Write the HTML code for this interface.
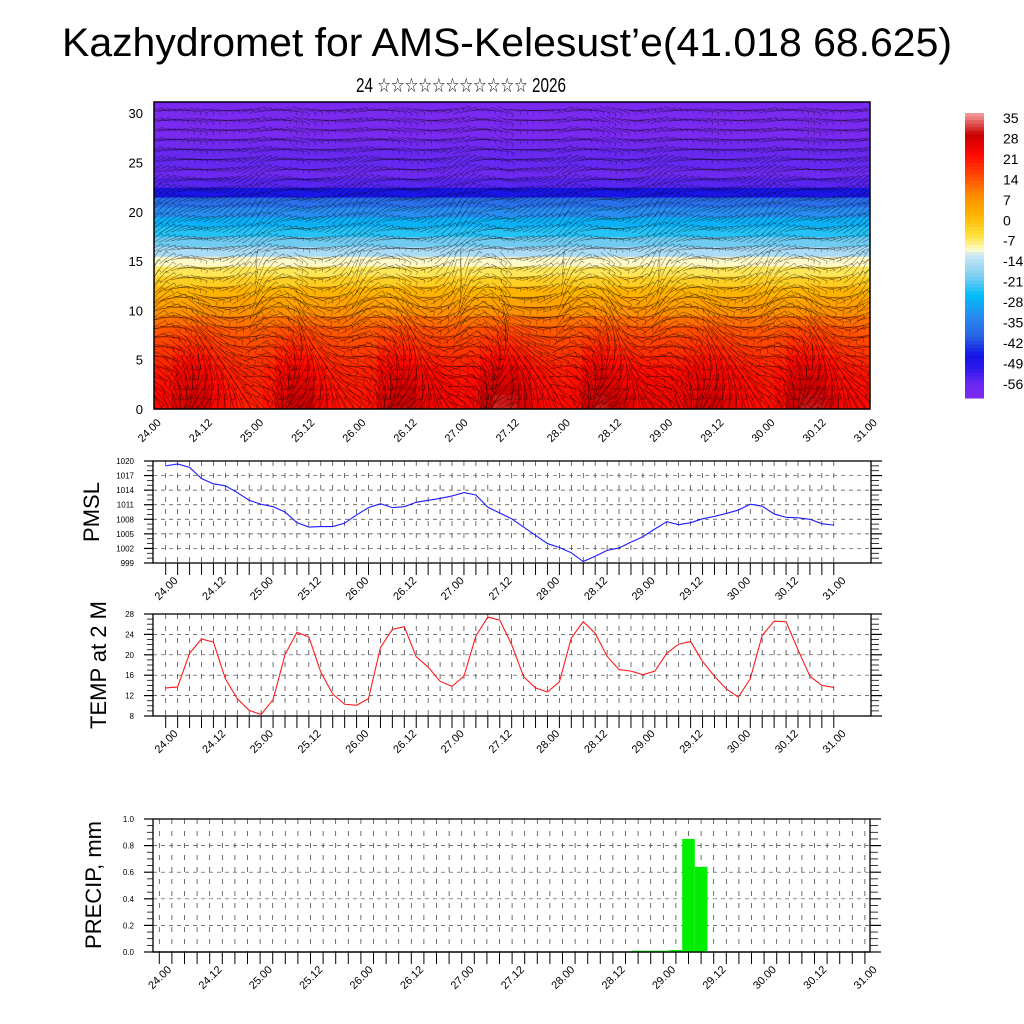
<!DOCTYPE html>
<html><head><meta charset="utf-8"><style>
html,body{margin:0;padding:0;background:#fff;}
svg{display:block;font-family:"Liberation Sans",sans-serif;}
</style></head><body>
<svg id="c" width="1024" height="1024" viewBox="0 0 1024 1024" xmlns="http://www.w3.org/2000/svg">
<text x="62" y="56" font-size="40" textLength="890" lengthAdjust="spacingAndGlyphs">Kazhydromet for AMS-Kelesust’e(41.018 68.625)</text>
<text x="356" y="92" font-size="20" textLength="210" lengthAdjust="spacingAndGlyphs">24 ☆☆☆☆☆☆☆☆☆☆☆ 2026</text>
<text transform="translate(99,512) rotate(-90)" text-anchor="middle" font-size="22">PMSL</text>
<text transform="translate(106,665) rotate(-90)" text-anchor="middle" font-size="22">TEMP at 2 M</text>
<text transform="translate(101,885) rotate(-90)" text-anchor="middle" font-size="22">PRECIP, mm</text>
<g id="g"></g>
</svg>
<script>
// ---- data ----
const timeLabels=["24.00","24.12","25.00","25.12","26.00","26.12","27.00","27.12","28.00","28.12","29.00","29.12","30.00","30.12","31.00"];
const pmsl=[1019.0,1019.4,1018.7,1016.4,1015.3,1014.9,1013.5,1011.9,1011.1,1010.6,1009.5,1007.3,1006.4,1006.5,1006.5,1007.2,1008.9,1010.4,1011.2,1010.4,1010.6,1011.5,1011.9,1012.3,1012.8,1013.5,1013.0,1010.5,1009.3,1008.1,1006.4,1004.7,1003.0,1002.2,1001.1,999.3,1000.4,1001.6,1002.1,1003.3,1004.4,1006.0,1007.5,1006.9,1007.3,1008.1,1008.6,1009.2,1009.9,1011.1,1010.7,1009.1,1008.4,1008.3,1008.0,1007.1,1006.8];
const temp2m=[13.5,13.7,20.3,23.1,22.5,15.3,11.4,9.1,8.3,11.2,20.0,24.4,23.5,16.6,12.3,10.3,10.1,11.4,21.4,25.0,25.5,19.6,17.6,14.8,13.8,15.8,23.7,27.4,26.8,22.0,15.7,13.5,12.7,14.7,23.3,26.5,24.2,19.7,17.1,16.8,16.1,16.8,20.3,22.1,22.6,18.7,15.8,13.3,11.7,15.3,23.8,26.6,26.5,21.0,15.8,14.0,13.6];
const precip=[0,0,0,0,0,0,0,0,0,0,0,0,0,0,0,0,0,0,0,0,0,0,0,0,0,0,0,0,0,0,0,0,0,0,0,0,0,0,0.01,0.01,0.01,0.015,0.85,0.64,0,0,0,0,0,0,0,0,0,0,0,0,0];
const pmslTicks=[999,1002,1005,1008,1011,1014,1017,1020];
const tempTicks=[8,12,16,20,24,28];
const precipTicks=[0.0,0.2,0.4,0.6,0.8,1.0];
const levelTicks=[0,5,10,15,20,25,30];
const levelTemp=[24,24,23,22,21,19,17,15,13,10,6,3,0,-4,-8,-12,-17,-22,-26,-30,-35,-40,-50,-57,-60,-58,-59,-61,-63,-63,-63,-63];
const cbarLabels=[35,28,21,14,7,0,-7,-14,-21,-28,-35,-42,-49,-56];
const windDirLevel=[90,80,70,60,50,40,30,20,10,5,0,-10,-15,-20,-25,-20,-15,-20,-25,-30,-35,-30,-25,-20,-15,-10,-5,0,0,0,0,0];
const windDirStep=[40,-30,60,-40,50,-50,70,-20,60,-60,40,-30,50,-40,20];
// ---- helpers ----
const NS="http://www.w3.org/2000/svg";
const G=document.getElementById('g');
function el(t,a,p){const e=document.createElementNS(NS,t);for(const k in a)e.setAttribute(k,a[k]);(p||G).appendChild(e);return e;}
const stops=[[-63,[122,42,240]],[-58,[100,40,240]],[-54,[50,25,235]],[-49,[20,20,230]],[-42,[40,100,230]],[-35,[40,140,240]],[-28,[0,190,250]],[-21,[130,205,240]],[-14,[200,232,248]],[-12,[255,250,200]],[-7,[255,225,60]],[0,[255,180,0]],[7,[255,140,0]],[14,[255,70,0]],[21,[255,10,0]],[28,[200,0,0]],[35,[245,150,150]]];
function col(v){if(v<=stops[0][0])return rgb(stops[0][1]);for(let i=1;i<stops.length;i++){if(v<=stops[i][0]){const a=stops[i-1],b=stops[i],f=(v-a[0])/(b[0]-a[0]);return rgb(a[1].map((c,j)=>Math.round(c+(b[1][j]-c)*f)));}}return rgb(stops[stops.length-1][1]);}
function rgb(c){return `rgb(${c[0]},${c[1]},${c[2]})`;}

// ---- top panel ----
const T={x0:154,x1:870,y0:102,y1:409};
const xT=i=>T.x0+i*(T.x1-T.x0)/56;
const yT=h=>409-h*9.86;
const cp=el('clipPath',{id:'cpT'},el('defs',{}));el('rect',{x:T.x0,y:T.y0,width:T.x1-T.x0,height:T.y1-T.y0},cp);
const heat=el('g',{'clip-path':'url(#cpT)'});


const cw=(T.x1-T.x0)/56;
for(let c=0;c<57;c++){for(let r=0;r<levelTemp.length;r++){
 const w=Math.max(0,(10-r)/10);
 const v=levelTemp[r]+(temp2m[c]-18)*0.6*w;
 const rc=el('rect',{x:xT(c)-cw/2,y:yT(r+0.5),width:cw+0.6,height:9.86+0.6,fill:col(v)},heat);
 
 
}}
const wind=el('g',{'clip-path':'url(#cpT)',stroke:'#000','stroke-width':'0.6','stroke-opacity':'0.5'});


for(let c=0;c<113;c++){for(let r=0;r<31;r++){
 const h=r+0.3;
 const amp=h<16?1:0.4;
 const a=(windDirLevel[r]+windDirStep[Math.floor(c/8)]*amp*((c%8)-3.5)/3.5)*Math.PI/180;
 const L=h<12?13:9;
 const cx=T.x0+c*(T.x1-T.x0)/112,cy=yT(h),dx=Math.cos(a)*L,dy=Math.sin(a)*L;
 const ln=el('line',{x1:cx-dx,y1:cy-dy,x2:cx+dx,y2:cy+dy},wind);
 
 
 const bx=cx+dx,by=cy+dy;
 const bk=el('line',{x1:bx,y1:by,x2:bx-dy*0.35,y2:by+dx*0.35},wind);
 
 
}}
el('rect',{x:T.x0,y:T.y0,width:T.x1-T.x0,height:T.y1-T.y0,fill:'none',stroke:'#000','stroke-width':1.5});
levelTicks.forEach(h=>{const t=el('text',{x:143,y:yT(h)+5,'text-anchor':'end','font-size':13});t.textContent=h;});
timeLabels.forEach((s,i)=>{const x=T.x0+i*(T.x1-T.x0)/14;const t=el('text',{transform:`translate(${x-2},${T.y1+24}) rotate(-45)`,'text-anchor':'middle','font-size':11});t.textContent=s;});

// colorbar
const CB={x:965,w:19,y0:113,y1:398};
const cbn=80;
for(let k=0;k<cbn;k++){const v=35-(k/(cbn-1))*98;const rr=el('rect',{x:CB.x,y:CB.y0+k*(CB.y1-CB.y0)/cbn,width:CB.w,height:(CB.y1-CB.y0)/cbn+0.5,fill:col(v)});}
cbarLabels.forEach((v,i)=>{const t=el('text',{x:1003,y:123+i*20.45,'font-size':14});t.textContent=v;});

// ---- line panels ----
function panel(cfg){
 const {x0,x1,y0,y1,ticks,vmin,vmax,xs,n,name,minor}=cfg;
 const yv=v=>y1-(v-vmin)/(vmax-vmin)*(y1-y0);
 const g=el('g',{});
 
 
 for(let i=0;i<n;i++){el('line',{x1:xs(i),x2:xs(i),y1:y0,y2:y1,stroke:'#333','stroke-width':0.7,'stroke-dasharray':'5,7'},g);}
 ticks.forEach(v=>{el('line',{x1:x0,x2:x1,y1:yv(v),y2:yv(v),stroke:'#444','stroke-width':0.7,'stroke-dasharray':'4,4'},g);});
 const st=(ticks[1]-ticks[0])/minor;
 for(let v=vmin;v<=vmax+1e-9;v+=st){const maj=Math.abs(((v-vmin)/(ticks[1]-ticks[0]))-Math.round((v-vmin)/(ticks[1]-ticks[0])))<1e-6;const L=maj?9:6;
  el('line',{x1:x0-L,x2:x0,y1:yv(v),y2:yv(v),stroke:'#000','stroke-width':maj?1.2:0.8},g);
  el('line',{x1:x1,x2:x1+L+2,y1:yv(v),y2:yv(v),stroke:'#000','stroke-width':maj?1.2:0.8},g);}
 ticks.forEach(v=>{const t=el('text',{x:134,y:yv(v)+3,'text-anchor':'end','font-size':8},g);t.textContent=cfg.fmt?cfg.fmt(v):v;});
 for(let i=0;i<n;i++){el('line',{x1:xs(i),x2:xs(i),y1:y1,y2:y1+12,stroke:'#000','stroke-width':1},g);}
 timeLabels.forEach((s,k)=>{const t=el('text',{transform:`translate(${xs(k*4)+3},${y1+28}) rotate(-45)`,'text-anchor':'middle','font-size':11},g);t.textContent=s;});
 el('rect',{x:x0,y:y0,width:x1-x0,height:y1-y0,fill:'none',stroke:'#000','stroke-width':1.3},g);
 return {g,yv};
}
const xP=i=>165.7+i*11.93;
const P=panel({x0:153,x1:871,y0:461,y1:563,ticks:pmslTicks,vmin:999,vmax:1020,xs:xP,n:57,name:'pmsl',minor:3});
const pl=el('polyline',{points:pmsl.map((v,i)=>xP(i)+','+P.yv(v)).join(' '),fill:'none',stroke:'#1a1aff','stroke-width':1.1});


const TP=panel({x0:153,x1:871,y0:614,y1:716,ticks:tempTicks,vmin:8,vmax:28,xs:xP,n:57,name:'temp',minor:4});
const tl=el('polyline',{points:temp2m.map((v,i)=>xP(i)+','+TP.yv(v)).join(' '),fill:'none',stroke:'#ff1a1a','stroke-width':1.1});


const xR=i=>159.3+i*12.6;
const RP=panel({x0:153,x1:870,y0:819,y1:952,ticks:precipTicks,vmin:0,vmax:1,xs:xR,n:57,name:'precip',minor:4,fmt:v=>v.toFixed(1)});
precip.forEach((v,i)=>{if(v<=0)return;const b=el('rect',{x:xR(i)-6.3,y:RP.yv(v),width:12.6,height:952-RP.yv(v),fill:'#00ee00'});});
el('line',{x1:153,x2:870,y1:952,y2:952,stroke:'#000','stroke-width':1.3});
</script>
</body></html>
